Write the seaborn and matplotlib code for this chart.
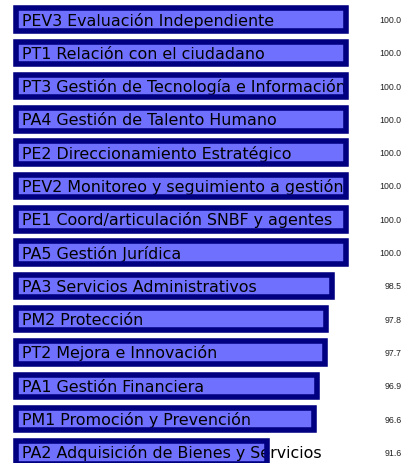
import numpy as np
import pandas as pd
import matplotlib
matplotlib.use('Agg')
import matplotlib.pyplot as plt
import seaborn as sns

procesos = [
    'PEV3 Evaluación Independiente',
    'PT1 Relación con el ciudadano',
    'PT3 Gestión de Tecnología e Información',
    'PA4 Gestión de Talento Humano',
    'PE2 Direccionamiento Estratégico',
    'PEV2 Monitoreo y seguimiento a gestión',
    'PE1 Coord/articulación SNBF y agentes',
    'PA5 Gestión Jurídica',
    'PA3 Servicios Administrativos',
    'PM2 Protección',
    'PT2 Mejora e Innovación',
    'PA1 Gestión Financiera',
    'PM1 Promoción y Prevención',
    'PA2 Adquisición de Bienes y Servicios',
]
valores = [100.0, 100.0, 100.0, 100.0, 100.0, 100.0, 100.0, 100.0,
           98.5, 97.8, 97.7, 96.9, 96.6, 91.6]

# las barras arrancan en este valor (eje recortado)
inicio = 64.8

df = pd.DataFrame({'proceso': procesos, 'valor': valores})
df['largo'] = df['valor'] - inicio

sns.set_style('white')
plt.rcParams['font.family'] = ['DejaVu Sans']

fig = plt.figure(figsize=(4.07, 4.64), dpi=100)
ax = fig.add_axes([0, 0, 1, 1])

# relleno
sns.barplot(data=df, x='largo', y='proceso', orient='h', ax=ax,
            color='#7070FF', linewidth=0, width=0.675, saturation=1,
            zorder=1)
# borde encima del texto
sns.barplot(data=df, x='largo', y='proceso', orient='h', ax=ax,
            color='#000080', fill=False, linewidth=4.0, width=0.675,
            saturation=1, zorder=3)

px = 9.4  # pixeles por unidad
ax.set_xlim(-15.5 / px, (407 - 15.5) / px)
ax.set_ylim(13.32, -0.616)

for i, row in df.iterrows():
    ax.text(6.5 / px, i + 0.15, row['proceso'], va='baseline', ha='left',
            fontsize=11.4, color='black', zorder=2)
    ax.text(0.9865, i, '%.1f' % row['valor'], va='center', ha='right',
            fontsize=6.3, color='#222222', family='Liberation Sans',
            transform=ax.get_yaxis_transform())

ax.axis('off')
fig.savefig('out.png', dpi=100)
